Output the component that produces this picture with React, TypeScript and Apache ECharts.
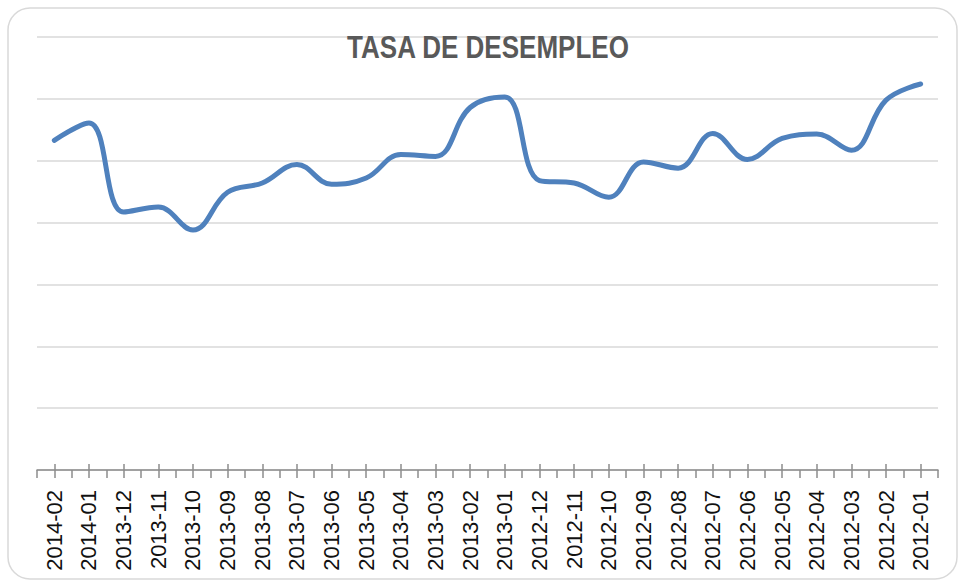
import React, { useEffect, useRef } from "react";
import * as echarts from "echarts";

const categories = [
  "2014-02", "2014-01", "2013-12", "2013-11", "2013-10", "2013-09", "2013-08",
  "2013-07", "2013-06", "2013-05", "2013-04", "2013-03", "2013-02", "2013-01",
  "2012-12", "2012-11", "2012-10", "2012-09", "2012-08", "2012-07", "2012-06",
  "2012-05", "2012-04", "2012-03", "2012-02", "2012-01",
];

const unemployment = [
  5.33, 5.61, 4.17, 4.25, 3.88, 4.49, 4.64, 4.94, 4.62, 4.72, 5.1, 5.07, 5.86,
  6.03, 4.68, 4.64, 4.41, 4.98, 4.88, 5.44, 5.02, 5.36, 5.43, 5.17, 5.98, 6.24,
];

const titleText = "TASA DE DESEMPLEO";
const font = "'Liberation Sans', Arial, sans-serif";

export default function App() {
  const ref = useRef<HTMLDivElement>(null);
  useEffect(() => {
    if (!ref.current) return;
    const chart = echarts.init(ref.current, null, { renderer: "svg" });
    chart.setOption({
      animation: false,
      backgroundColor: "#ffffff",
      graphic: [
        {
          type: "rect",
          shape: { x: 8, y: 8, width: 949, height: 571, r: 22 },
          style: { fill: "none", stroke: "#d9d9d9", lineWidth: 1.5 },
          silent: true,
          z: -10,
        },
        {
          type: "text",
          x: 488,
          y: 47,
          scaleX: 0.84,
          style: {
            text: titleText,
            fontFamily: font,
            fontWeight: "bold",
            fontSize: 31,
            fill: "#595959",
            align: "center",
            verticalAlign: "middle",
          },
          z: 10,
        },
      ],
      grid: { left: 37, right: 22, top: 37, bottom: 111, containLabel: false },
      xAxis: [
        {
          type: "category",
          data: categories,
          boundaryGap: true,
          axisLine: { show: true, lineStyle: { color: "#8c8c8c", width: 1.5 } },
          axisTick: { show: true, length: 8, lineStyle: { color: "#8c8c8c", width: 1.5 } },
          axisLabel: {
            rotate: 90,
            margin: 20,
            interval: 0,
            fontFamily: font,
            fontSize: 22,
            color: "#111111",
          },
          splitLine: { show: false },
        },
        {
          type: "category",
          data: categories,
          position: "bottom",
          offset: -6,
          boundaryGap: true,
          axisLine: { show: false },
          axisTick: {
            show: true,
            alignWithLabel: true,
            interval: 0,
            length: 14,
            lineStyle: { color: "#8c8c8c", width: 1.5 },
          },
          axisLabel: { show: false },
          splitLine: { show: false },
        },
      ],
      yAxis: {
        type: "value",
        min: 0,
        max: 7,
        interval: 1,
        axisLabel: { show: false },
        axisLine: { show: false },
        axisTick: { show: false },
        splitLine: { show: true, lineStyle: { color: "#d9d9d9", width: 1.5 } },
      },
      series: [
        {
          type: "line",
          data: unemployment,
          xAxisIndex: 0,
          smooth: 0.4,
          showSymbol: false,
          lineStyle: { color: "#4f81bd", width: 5, cap: "round" },
          itemStyle: { color: "#4f81bd" },
        },
      ],
    });
    return () => chart.dispose();
  }, []);
  return (
    <div
      ref={ref}
      style={{ position: "absolute", left: 0, top: 0, width: 960, height: 581 }}
    />
  );
}
